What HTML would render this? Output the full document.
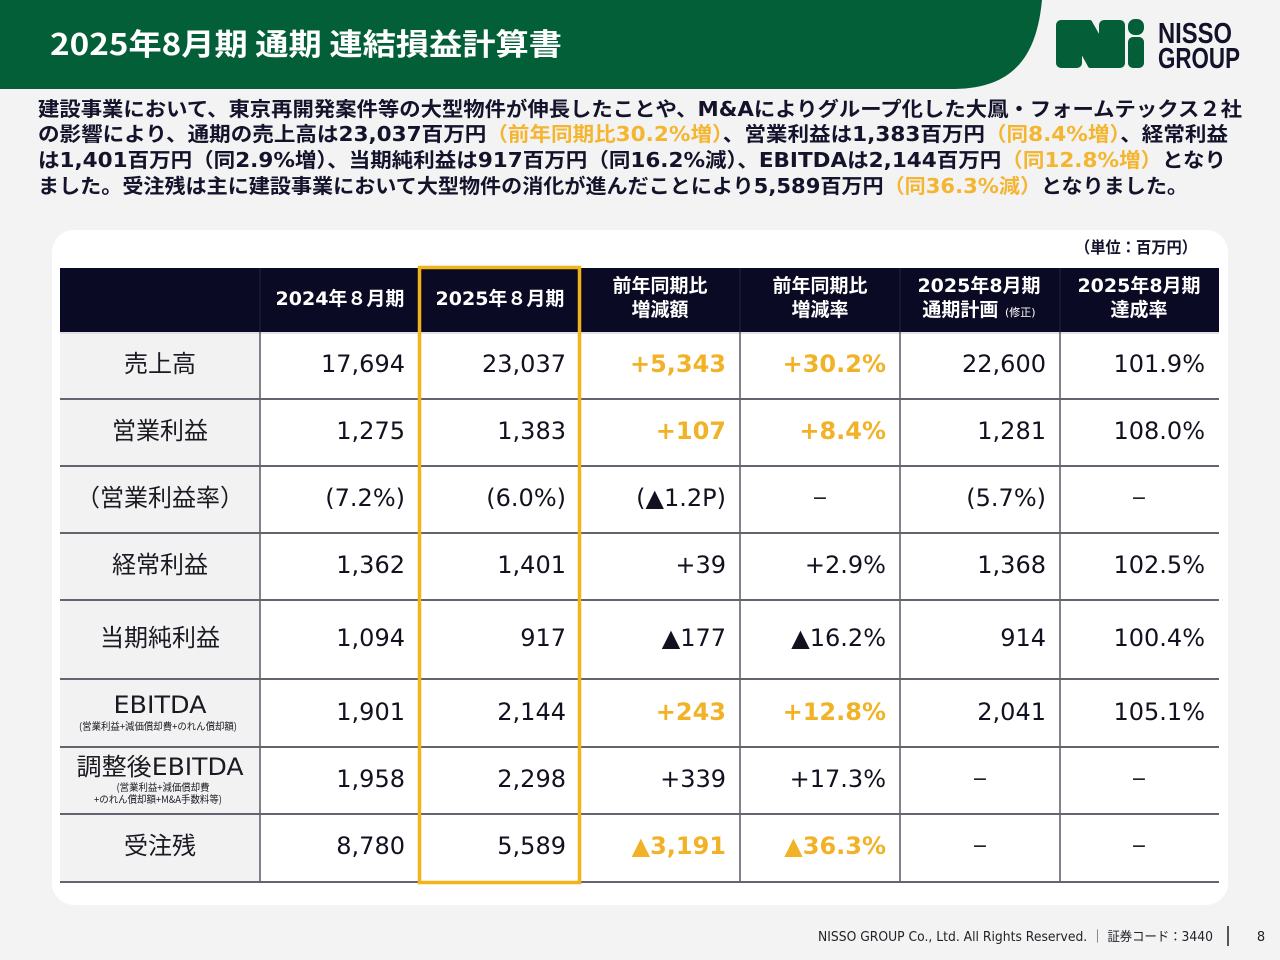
<!DOCTYPE html>
<html><head><meta charset="utf-8"><style>
html,body{margin:0;padding:0;background:#f3f3f3;}
svg{display:block;}
</style></head><body>
<svg width="1280" height="960" viewBox="0 0 1280 960" xmlns="http://www.w3.org/2000/svg">
<rect x="0" y="0" width="1280" height="960" fill="#f3f3f3"/>
<!-- header green -->
<path d="M0 0 H1042 C1037 52 1017 88 955 89 H0 Z" fill="#035f37"/>
<text x="50" y="55" fill="#ffffff" font-family="Noto Sans CJK JP, sans-serif" font-weight="bold" font-size="30" textLength="512" lengthAdjust="spacingAndGlyphs">2025年8月期 通期 連結損益計算書</text>
<!-- logo -->
<g fill="#045e37" stroke="#045e37" stroke-width="4" stroke-linejoin="round">
<rect x="1058" y="22" width="22" height="44" rx="3"/>
<rect x="1101" y="22" width="22" height="44" rx="3"/>
<polygon points="1066,22 1090,22 1115,66 1090,66"/>
<rect x="1130" y="21" width="12" height="12" rx="5"/>
<rect x="1130" y="39" width="12" height="27" rx="3"/>
</g>
<text x="1158" y="43" fill="#13122b" font-family="Liberation Sans Narrow, Liberation Sans, sans-serif" font-weight="bold" font-size="29" textLength="74" lengthAdjust="spacingAndGlyphs">NISSO</text>
<text x="1158" y="68" fill="#13122b" font-family="Liberation Sans Narrow, Liberation Sans, sans-serif" font-weight="bold" font-size="29" textLength="82" lengthAdjust="spacingAndGlyphs">GROUP</text>
<!-- paragraph -->
<g font-family="DejaVu Sans, Noto Sans CJK JP, sans-serif" font-weight="bold" font-size="20" fill="#13132b">
<text x="38" y="116" textLength="1204" lengthAdjust="spacingAndGlyphs">建設事業において、東京再開発案件等の大型物件が伸長したことや、M&amp;Aによりグループ化した大鳳・フォームテックス２社</text>
<text x="38" y="141" textLength="1190" lengthAdjust="spacingAndGlyphs">の影響により、通期の売上高は23,037百万円<tspan fill="#f4b531">（前年同期比30.2%増）</tspan>、営業利益は1,383百万円<tspan fill="#f4b531">（同8.4%増）</tspan>、経常利益</text>
<text x="38" y="167" textLength="1188" lengthAdjust="spacingAndGlyphs">は1,401百万円（同2.9%増）、当期純利益は917百万円（同16.2%減）、EBITDAは2,144百万円<tspan fill="#f4b531">（同12.8%増）</tspan>となり</text>
<text x="38" y="193" textLength="1150" lengthAdjust="spacingAndGlyphs">ました。受注残は主に建設事業において大型物件の消化が進んだことにより5,589百万円<tspan fill="#f4b531">（同36.3%減）</tspan>となりました。</text>
</g>
<!-- panel -->
<rect x="52" y="230" width="1176" height="675" rx="22" fill="#ffffff"/>
<text x="1075" y="253" fill="#13132b" font-family="Noto Sans CJK JP, sans-serif" font-weight="bold" font-size="16" textLength="122" lengthAdjust="spacingAndGlyphs">（単位：百万円）</text>
<!-- table header -->
<rect x="60" y="268" width="1159" height="64" fill="#0b0a24"/>
<g stroke="#25243f" stroke-width="1">
<line x1="260" y1="268" x2="260" y2="332"/><line x1="740" y1="268" x2="740" y2="332"/><line x1="900" y1="268" x2="900" y2="332"/><line x1="1060" y1="268" x2="1060" y2="332"/>
</g>
<!-- first col bg -->
<rect x="60" y="332" width="200" height="550" fill="#f2f2f2"/>
<line x1="60" y1="333" x2="1219" y2="333" stroke="#d8d8de" stroke-width="1.5"/>
<!-- vertical lines -->
<g stroke="#404050" stroke-width="1.3">
<line x1="260" y1="332" x2="260" y2="882"/><line x1="420" y1="332" x2="420" y2="882"/><line x1="580" y1="332" x2="580" y2="882"/><line x1="740" y1="332" x2="740" y2="882"/><line x1="900" y1="332" x2="900" y2="882"/><line x1="1060" y1="332" x2="1060" y2="882"/>
</g>
<!-- horizontal lines -->
<g stroke="#64646e" stroke-width="2">
<line x1="60" y1="399" x2="1219" y2="399"/><line x1="60" y1="466" x2="1219" y2="466"/><line x1="60" y1="533" x2="1219" y2="533"/><line x1="60" y1="600" x2="1219" y2="600"/><line x1="60" y1="679" x2="1219" y2="679"/><line x1="60" y1="747" x2="1219" y2="747"/><line x1="60" y1="814" x2="1219" y2="814"/><line x1="60" y1="882" x2="1219" y2="882"/>
</g>
<!-- header text -->
<g fill="#ffffff" font-family="DejaVu Sans, Noto Sans CJK JP, sans-serif" font-weight="bold" font-size="19" text-anchor="middle">
<text x="340" y="305">2024年８月期</text>
<text x="500" y="305">2025年８月期</text>
<text x="660" y="292">前年同期比</text>
<text x="660" y="316">増減額</text>
<text x="820" y="292">前年同期比</text>
<text x="820" y="316">増減率</text>
<text x="979" y="292">2025年8月期</text>
<text x="979" y="316">通期計画 <tspan font-size="11" font-weight="normal">(修正)</tspan></text>
<text x="1139" y="292">2025年8月期</text>
<text x="1139" y="316">達成率</text>
</g>
<!-- labels -->
<g fill="#1a1a22" font-family="DejaVu Sans, Noto Sans CJK JP, sans-serif" font-size="24" text-anchor="middle">
<text x="160" y="372">売上高</text>
<text x="160" y="439">営業利益</text>
<text x="160" y="506">（営業利益率）</text>
<text x="160" y="573">経常利益</text>
<text x="160" y="646">当期純利益</text>
<text x="160" y="713" textLength="93" lengthAdjust="spacingAndGlyphs">EBITDA</text>
<text x="160" y="775" textLength="167" lengthAdjust="spacingAndGlyphs">調整後EBITDA</text>
<text x="160" y="854">受注残</text>
</g>
<g fill="#1a1a22" font-family="Noto Sans CJK JP, sans-serif" font-size="10" text-anchor="middle">
<text x="158" y="730" textLength="158" lengthAdjust="spacingAndGlyphs">(営業利益+減価償却費+のれん償却額)</text>
<text x="163" y="791" textLength="93" lengthAdjust="spacingAndGlyphs">(営業利益+減価償却費</text>
<text x="158" y="803" textLength="128" lengthAdjust="spacingAndGlyphs">+のれん償却額+M&amp;A手数料等)</text>
</g>
<!-- numbers -->
<g fill="#111120" font-family="DejaVu Sans, sans-serif" font-size="24" text-anchor="end">
<text x="405" y="372">17,694</text><text x="566" y="372">23,037</text><text x="1046" y="372">22,600</text><text x="1205" y="372">101.9%</text>
<text x="405" y="439">1,275</text><text x="566" y="439">1,383</text><text x="1046" y="439">1,281</text><text x="1205" y="439">108.0%</text>
<text x="405" y="506">(7.2%)</text><text x="566" y="506">(6.0%)</text><text x="726" y="506">(▲1.2P)</text><text x="1046" y="506">(5.7%)</text>
<text x="405" y="573">1,362</text><text x="566" y="573">1,401</text><text x="726" y="573">+39</text><text x="886" y="573">+2.9%</text><text x="1046" y="573">1,368</text><text x="1205" y="573">102.5%</text>
<text x="405" y="646">1,094</text><text x="566" y="646">917</text><text x="726" y="646">▲177</text><text x="886" y="646">▲16.2%</text><text x="1046" y="646">914</text><text x="1205" y="646">100.4%</text>
<text x="405" y="720">1,901</text><text x="566" y="720">2,144</text><text x="1046" y="720">2,041</text><text x="1205" y="720">105.1%</text>
<text x="405" y="787">1,958</text><text x="566" y="787">2,298</text><text x="726" y="787">+339</text><text x="886" y="787">+17.3%</text>
<text x="405" y="854">8,780</text><text x="566" y="854">5,589</text>
</g>
<g fill="#111120" font-family="DejaVu Sans, sans-serif" font-size="19" text-anchor="middle">
<text x="820" y="504">−</text><text x="1139" y="504">−</text>
<text x="980" y="785">−</text><text x="1139" y="785">−</text>
<text x="980" y="852">−</text><text x="1139" y="852">−</text>
</g>
<g fill="#f2b227" font-family="DejaVu Sans, sans-serif" font-size="24" font-weight="bold" text-anchor="end">
<text x="726" y="372">+5,343</text><text x="886" y="372">+30.2%</text>
<text x="726" y="439">+107</text><text x="886" y="439">+8.4%</text>
<text x="726" y="720">+243</text><text x="886" y="720">+12.8%</text>
<text x="726" y="854">▲3,191</text><text x="886" y="854">▲36.3%</text>
</g>
<!-- yellow highlight -->
<rect x="419.5" y="267.5" width="160" height="615" fill="none" stroke="#f2b418" stroke-width="3.5"/>
<!-- footer -->
<text x="818" y="941" fill="#222228" font-family="DejaVu Sans, Noto Sans CJK JP, sans-serif" font-size="13" textLength="395" lengthAdjust="spacingAndGlyphs">NISSO GROUP Co., Ltd. All Rights Reserved. ｜ 証券コード：3440</text>
<line x1="1228" y1="926" x2="1228" y2="946" stroke="#222228" stroke-width="1.5"/>
<text x="1261" y="941" fill="#222228" font-family="DejaVu Sans, sans-serif" font-size="13" text-anchor="middle">8</text>
</svg>
</body></html>
